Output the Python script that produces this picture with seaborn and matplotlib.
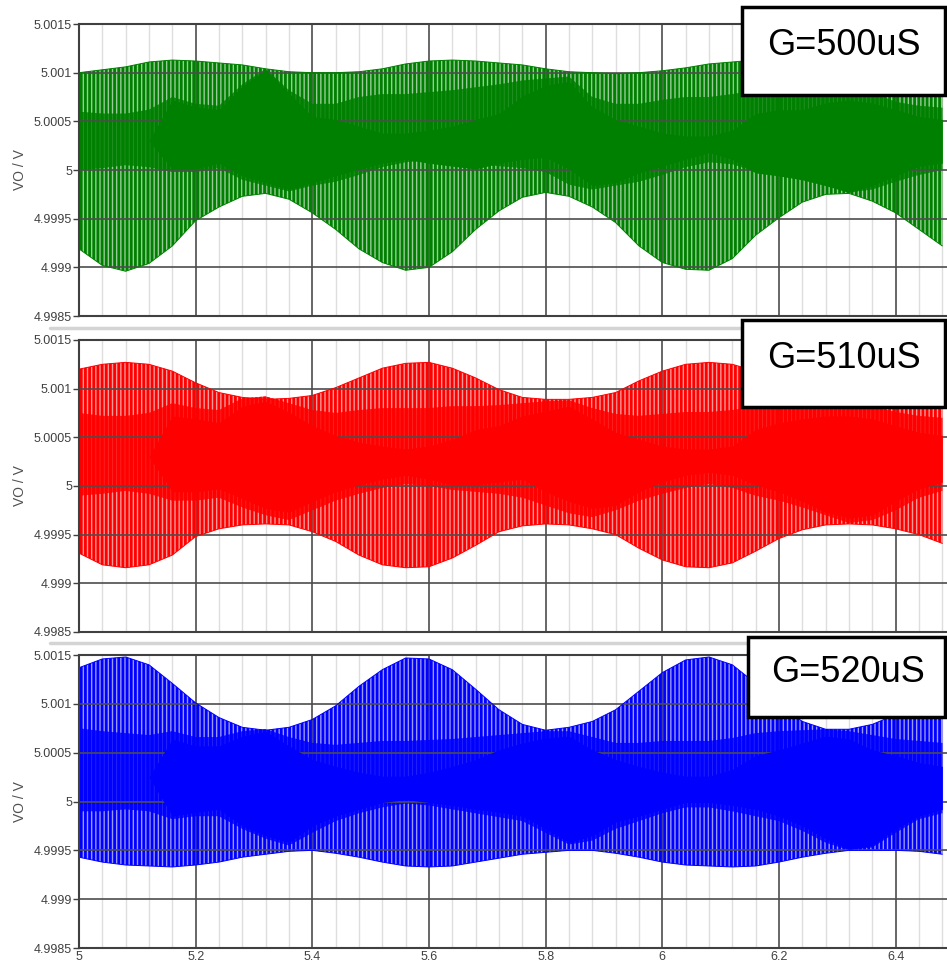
import matplotlib
matplotlib.use("Agg")
import matplotlib.pyplot as plt
from matplotlib.patches import Rectangle
from matplotlib.lines import Line2D
from matplotlib.colors import to_rgba
from matplotlib.ticker import MultipleLocator
import pandas as pd
import seaborn as sns

# time axis (s), read every 0.04 s
t = [5.00, 5.04, 5.08, 5.12, 5.16, 5.20, 5.24, 5.28, 5.32, 5.36,
     5.40, 5.44, 5.48, 5.52, 5.56, 5.60, 5.64, 5.68, 5.72, 5.76,
     5.80, 5.84, 5.88, 5.92, 5.96, 6.00, 6.04, 6.08, 6.12, 6.16,
     6.20, 6.24, 6.28, 6.32, 6.36, 6.40, 6.44, 6.48]

# G=500uS : outer envelope, crowded (dense) band, solid core
g_upper = [5.00100, 5.00103, 5.00106, 5.00111, 5.00113, 5.00112, 5.00110, 5.00108, 5.00104, 5.00101,
           5.00100, 5.00100, 5.00101, 5.00104, 5.00109, 5.00112, 5.00113, 5.00112, 5.00110, 5.00108,
           5.00104, 5.00101, 5.00100, 5.00099, 5.00100, 5.00102, 5.00105, 5.00109, 5.00111, 5.00113,
           5.00112, 5.00110, 5.00108, 5.00104, 5.00101, 5.00100, 5.00100, 5.00101]
g_lower = [4.99919, 4.99902, 4.99896, 4.99904, 4.99922, 4.99948, 4.99962, 4.99973, 4.99976, 4.99970,
           4.99956, 4.99939, 4.99919, 4.99905, 4.99897, 4.99900, 4.99916, 4.99939, 4.99958, 4.99972,
           4.99977, 4.99973, 4.99962, 4.99946, 4.99922, 4.99905, 4.99898, 4.99897, 4.99909, 4.99933,
           4.99951, 4.99967, 4.99975, 4.99976, 4.99968, 4.99956, 4.99939, 4.99922]
g_dense_hi = [5.00060, 5.00058, 5.00058, 5.00062, 5.00075, 5.00068, 5.00066, 5.00088, 5.00104, 5.00082,
              5.00068, 5.00068, 5.00075, 5.00078, 5.00078, 5.00080, 5.00082, 5.00085, 5.00088, 5.00092,
              5.00094, 5.00096, 5.00075, 5.00068, 5.00068, 5.00072, 5.00075, 5.00075, 5.00078, 5.00082,
              5.00082, 5.00080, 5.00082, 5.00085, 5.00080, 5.00070, 5.00066, 5.00064]
g_dense_lo = [5.00000, 5.00002, 5.00005, 5.00003, 4.99998, 4.99998, 5.00002, 4.99990, 4.99984, 4.99978,
              4.99984, 4.99988, 4.99995, 5.00003, 5.00008, 5.00010, 5.00008, 5.00006, 5.00004, 5.00002,
              4.99998, 4.99985, 4.99980, 4.99984, 4.99988, 4.99995, 5.00003, 5.00008, 5.00006, 4.99998,
              4.99994, 4.99990, 4.99984, 4.99977, 4.99980, 4.99988, 4.99995, 5.00000]
g_core_hi = [5.00030, 5.00030, 5.00030, 5.00030, 5.00072, 5.00065, 5.00062, 5.00086, 5.00103, 5.00079,
             5.00055, 5.00052, 5.00045, 5.00038, 5.00038, 5.00041, 5.00045, 5.00052, 5.00058, 5.00076,
             5.00087, 5.00091, 5.00065, 5.00052, 5.00045, 5.00038, 5.00035, 5.00035, 5.00041, 5.00058,
             5.00062, 5.00062, 5.00069, 5.00072, 5.00069, 5.00062, 5.00055, 5.00052]
g_core_lo = [5.00030, 5.00030, 5.00030, 5.00030, 5.00001, 5.00001, 5.00007, 4.99994, 4.99987, 4.99980,
             4.99987, 4.99994, 5.00001, 5.00007, 5.00011, 5.00007, 5.00004, 5.00001, 5.00007, 5.00011,
             5.00013, 5.00001, 4.99984, 4.99987, 4.99997, 5.00004, 5.00011, 5.00018, 5.00011, 4.99997,
             4.99994, 4.99990, 4.99984, 4.99977, 4.99984, 4.99994, 5.00004, 5.00007]

# G=510uS
r_upper = [5.00120, 5.00125, 5.00127, 5.00125, 5.00118, 5.00106, 5.00096, 5.00091, 5.00089, 5.00090,
           5.00093, 5.00101, 5.00111, 5.00121, 5.00126, 5.00127, 5.00121, 5.00111, 5.00099, 5.00091,
           5.00089, 5.00089, 5.00091, 5.00096, 5.00108, 5.00118, 5.00125, 5.00127, 5.00125, 5.00118,
           5.00106, 5.00096, 5.00091, 5.00089, 5.00090, 5.00093, 5.00101, 5.00111]
r_lower = [4.99931, 4.99919, 4.99916, 4.99919, 4.99929, 4.99948, 4.99956, 4.99960, 4.99961, 4.99960,
           4.99953, 4.99943, 4.99929, 4.99919, 4.99916, 4.99917, 4.99926, 4.99939, 4.99953, 4.99959,
           4.99961, 4.99960, 4.99956, 4.99950, 4.99936, 4.99924, 4.99917, 4.99916, 4.99921, 4.99933,
           4.99946, 4.99955, 4.99960, 4.99961, 4.99960, 4.99956, 4.99950, 4.99941]
r_dense_hi = [5.00075, 5.00072, 5.00072, 5.00075, 5.00085, 5.00080, 5.00078, 5.00090, 5.00092, 5.00085,
              5.00078, 5.00075, 5.00078, 5.00080, 5.00080, 5.00080, 5.00082, 5.00082, 5.00083, 5.00085,
              5.00087, 5.00088, 5.00080, 5.00074, 5.00072, 5.00074, 5.00076, 5.00076, 5.00078, 5.00082,
              5.00084, 5.00084, 5.00086, 5.00086, 5.00082, 5.00076, 5.00072, 5.00070]
r_dense_lo = [4.99990, 4.99992, 4.99995, 4.99992, 4.99985, 4.99985, 4.99988, 4.99978, 4.99970, 4.99965,
              4.99975, 4.99985, 4.99992, 4.99998, 5.00002, 5.00000, 4.99996, 4.99994, 4.99992, 4.99988,
              4.99980, 4.99972, 4.99968, 4.99975, 4.99985, 4.99992, 4.99998, 5.00002, 4.99998, 4.99990,
              4.99985, 4.99978, 4.99970, 4.99962, 4.99965, 4.99975, 4.99988, 4.99995]
r_core_hi = [5.00030, 5.00030, 5.00030, 5.00030, 5.00072, 5.00069, 5.00065, 5.00082, 5.00087, 5.00076,
             5.00062, 5.00052, 5.00045, 5.00041, 5.00038, 5.00041, 5.00048, 5.00058, 5.00062, 5.00072,
             5.00077, 5.00082, 5.00069, 5.00055, 5.00048, 5.00041, 5.00038, 5.00038, 5.00041, 5.00058,
             5.00065, 5.00069, 5.00072, 5.00072, 5.00069, 5.00062, 5.00055, 5.00052]
r_core_lo = [5.00030, 5.00030, 5.00030, 5.00030, 4.99994, 4.99994, 4.99997, 4.99987, 4.99977, 4.99973,
             4.99984, 4.99994, 5.00001, 5.00007, 5.00011, 5.00007, 5.00001, 5.00001, 5.00004, 5.00007,
             4.99994, 4.99984, 4.99977, 4.99980, 4.99994, 5.00004, 5.00011, 5.00014, 5.00011, 5.00001,
             4.99994, 4.99984, 4.99973, 4.99967, 4.99970, 4.99984, 4.99997, 5.00004]

# G=520uS
b_upper = [5.00137, 5.00146, 5.00148, 5.00140, 5.00121, 5.00101, 5.00086, 5.00076, 5.00073, 5.00076,
           5.00084, 5.00098, 5.00118, 5.00135, 5.00147, 5.00146, 5.00135, 5.00115, 5.00094, 5.00079,
           5.00073, 5.00076, 5.00082, 5.00094, 5.00113, 5.00132, 5.00145, 5.00148, 5.00140, 5.00121,
           5.00099, 5.00082, 5.00074, 5.00074, 5.00079, 5.00089, 5.00104, 5.00121]
b_lower = [4.99943, 4.99938, 4.99935, 4.99934, 4.99933, 4.99935, 4.99938, 4.99943, 4.99946, 4.99949,
           4.99950, 4.99947, 4.99943, 4.99938, 4.99934, 4.99933, 4.99934, 4.99938, 4.99942, 4.99946,
           4.99948, 4.99950, 4.99950, 4.99947, 4.99943, 4.99938, 4.99935, 4.99934, 4.99933, 4.99934,
           4.99938, 4.99943, 4.99947, 4.99950, 4.99950, 4.99950, 4.99949, 4.99946]
b_dense_hi = [5.00075, 5.00072, 5.00070, 5.00068, 5.00072, 5.00066, 5.00066, 5.00072, 5.00074, 5.00066,
              5.00060, 5.00058, 5.00060, 5.00062, 5.00062, 5.00063, 5.00064, 5.00066, 5.00068, 5.00070,
              5.00072, 5.00072, 5.00066, 5.00060, 5.00060, 5.00062, 5.00062, 5.00062, 5.00065, 5.00070,
              5.00072, 5.00073, 5.00074, 5.00072, 5.00068, 5.00064, 5.00062, 5.00060]
b_dense_lo = [4.99990, 4.99990, 4.99992, 4.99990, 4.99982, 4.99985, 4.99985, 4.99972, 4.99962, 4.99955,
              4.99968, 4.99980, 4.99988, 4.99994, 4.99998, 4.99996, 4.99992, 4.99988, 4.99984, 4.99980,
              4.99968, 4.99956, 4.99960, 4.99972, 4.99980, 4.99988, 4.99994, 4.99994, 4.99990, 4.99985,
              4.99980, 4.99970, 4.99958, 4.99950, 4.99953, 4.99968, 4.99982, 4.99988]
b_core_hi = [5.00025, 5.00025, 5.00025, 5.00025, 5.00064, 5.00057, 5.00057, 5.00067, 5.00072, 5.00057,
             5.00043, 5.00036, 5.00030, 5.00026, 5.00026, 5.00030, 5.00036, 5.00043, 5.00053, 5.00060,
             5.00065, 5.00067, 5.00053, 5.00043, 5.00036, 5.00030, 5.00026, 5.00026, 5.00033, 5.00047,
             5.00053, 5.00060, 5.00067, 5.00064, 5.00053, 5.00047, 5.00040, 5.00036]
b_core_lo = [5.00025, 5.00025, 5.00025, 5.00025, 4.99985, 4.99989, 4.99992, 4.99975, 4.99965, 4.99958,
             4.99975, 4.99985, 4.99992, 4.99999, 5.00002, 4.99999, 4.99996, 4.99992, 4.99989, 4.99985,
             4.99972, 4.99958, 4.99965, 4.99979, 4.99985, 4.99992, 4.99999, 4.99999, 4.99996, 4.99992,
             4.99985, 4.99975, 4.99962, 4.99951, 4.99955, 4.99972, 4.99985, 4.99992]

labels = ["G=500uS", "G=510uS", "G=520uS"]
colors = ["#008000", "#ff0000", "#0000ff"]

y_ticks = [4.9985, 4.999, 4.9995, 5.0, 5.0005, 5.001, 5.0015]
y_ticklabels = ["4.9985", "4.999", "4.9995", "5", "5.0005", "5.001", "5.0015"]
x_ticks = [5.0, 5.2, 5.4, 5.6, 5.8, 6.0, 6.2, 6.4]
x_ticklabels = ["5", "5.2", "5.4", "5.6", "5.8", "6", "6.2", "6.4"]

series = [(g_upper, g_lower, g_dense_hi, g_dense_lo, g_core_hi, g_core_lo),
          (r_upper, r_lower, r_dense_hi, r_dense_lo, r_core_hi, r_core_lo),
          (b_upper, b_lower, b_dense_hi, b_dense_lo, b_core_hi, b_core_lo)]

sns.set_theme(style="white")
plt.rcParams["font.family"] = ["Liberation Sans", "DejaVu Sans"]
plt.rcParams["hatch.linewidth"] = 2.0

fig = plt.figure(figsize=(9.47, 9.65), dpi=100)
positions = [[0.0834, 0.6725, 0.9166, 0.3026],
             [0.0834, 0.3451, 0.9166, 0.3026],
             [0.0834, 0.0176, 0.9166, 0.3036]]
# label boxes: (x0, y0, w, h) in axes fraction, text centre
boxes = [((0.764, 0.757, 0.234, 0.301), (0.881, 0.928)),
         ((0.764, 0.771, 0.234, 0.297), (0.881, 0.938)),
         ((0.771, 0.788, 0.227, 0.273), (0.886, 0.939))]

for i, (ax_pos, arrs, col, lab, box) in enumerate(
        zip(positions, series, colors, labels, boxes)):
    ax = fig.add_axes(ax_pos)
    df = pd.DataFrame(dict(zip(["t", "upper", "lower", "dhi", "dlo", "chi", "clo"],
                               [t] + list(arrs))))

    # ripple: striped band between envelopes, crowded band, solid core
    ax.fill_between(df["t"], df["lower"], df["upper"], facecolor=to_rgba(col, 0.4),
                    edgecolor=col, hatch="||||", linewidth=0, zorder=1.0)
    ax.fill_between(df["t"], df["dlo"], df["dhi"], facecolor=to_rgba(col, 0.8),
                    edgecolor=col, hatch="||||", linewidth=0, zorder=1.2)
    ax.fill_between(df["t"], df["clo"], df["chi"], color=col, linewidth=0, zorder=2.0)
    sns.lineplot(data=df, x="t", y="upper", ax=ax, color=col, lw=0.7, zorder=2.1)
    sns.lineplot(data=df, x="t", y="lower", ax=ax, color=col, lw=0.7, zorder=2.1)

    ax.set_xlim(5.0, 6.488)
    ax.set_ylim(4.9985, 5.0015)
    ax.set_yticks(y_ticks)
    ax.set_yticklabels(y_ticklabels)
    ax.set_xticks(x_ticks)
    ax.set_xticklabels(x_ticklabels)
    ax.xaxis.set_minor_locator(MultipleLocator(0.04))
    ax.set_axisbelow("line")
    ax.xaxis.set_zorder(0.5)   # vertical grid behind the ripple, horizontal grid over it
    ax.grid(which="major", color="#4d4d4d", lw=1.2)
    ax.grid(which="minor", axis="x", color="#dedede", lw=1.0)
    ax.tick_params(axis="y", length=4, width=1, color="#404040", labelsize=9,
                   labelcolor="#404040", pad=1, left=True)
    ax.tick_params(axis="x", which="both", length=0, labelsize=9,
                   labelcolor="#404040", pad=2)
    if i < 2:
        ax.tick_params(labelbottom=False)
    for s in ["left", "top", "bottom"]:
        ax.spines[s].set_color("#404040")
        ax.spines[s].set_linewidth(1.5)
    ax.spines["right"].set_visible(False)
    ax.set_xlabel("")
    ax.set_ylabel("VO / V", fontsize=10, color="#505050", labelpad=5)

    (bx, by, bw, bh), (tx, ty) = box
    ax.add_patch(Rectangle((bx, by), bw, bh, transform=ax.transAxes, facecolor="white",
                           edgecolor="black", lw=2.5, clip_on=False, zorder=10))
    ax.text(tx, ty, lab, transform=ax.transAxes, ha="center", va="center",
            fontsize=26, color="black", zorder=11)

# light separators between the stacked panels
for yp in [328, 643]:
    fig.add_artist(Line2D([0.053, 1.0], [1 - yp / 965] * 2, color="#d4d4d4", lw=2.5,
                          transform=fig.transFigure, zorder=0))

fig.savefig("out.png", dpi=100)
